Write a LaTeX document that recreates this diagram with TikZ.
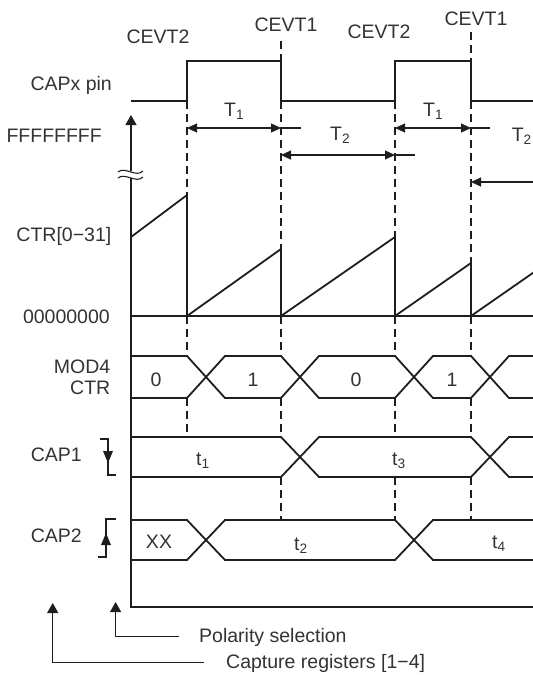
\documentclass[tikz,border=0pt]{standalone}
\usepackage{fontspec}
\setmainfont{Liberation Sans}
\usetikzlibrary{arrows.meta}
\definecolor{ink}{HTML}{1E1E1E}
\definecolor{txt}{HTML}{333333}
\begin{document}
\begin{tikzpicture}[x=1pt,y=-1pt,line join=miter]
\tikzset{
 sig/.style={line width=1.8pt, draw=ink},
 thinl/.style={line width=1.1pt, draw=ink},
 dsh/.style={line width=1.1pt, draw=ink, dash pattern=on 8pt off 5pt},
 lbl/.style={font=\fontsize{19.5}{22}\selectfont, text=txt, inner sep=0pt},
 tipT/.style={-{Triangle[length=10pt,width=9pt]}},
 tipTT/.style={{Triangle[length=10pt,width=9pt]}-{Triangle[length=10pt,width=9pt]}},
 tipA/.style={-{Triangle[length=10pt,width=11pt]}},
}
\fill[white] (0,0) rectangle (533,675);
\useasboundingbox (0,0) rectangle (533,675);
\begin{scope}
\clip (0,0) rectangle (533,675);
% event coordinates
\coordinate (e1) at (187,0);
\coordinate (e2) at (281,0);
\coordinate (e3) at (395,0);
\coordinate (e4) at (471,0);
% dashed event lines
\foreach \x/\ya/\yb in {187/101/195, 187/316/356, 187/398/437,
 281/41/61, 281/101/249, 281/316/356, 281/398/437, 281/477/520,
 395/101/237, 395/316/356, 395/398/437, 395/477/520,
 471/32/61, 471/101/263, 471/316/356, 471/398/437, 471/477/520}
 \draw[dsh] (\x,\ya) -- (\x,\yb);
% CAPx pin signal
\draw[sig] (131,101)--(187,101)--(187,61)--(281,61)--(281,101)--(395,101)--(395,61)--(471,61)--(471,101)--(540,101);
% T arrows
\draw[thinl,tipTT] (187,128)--(281,128);
\draw[thinl] (281,128)--(301,128);
\draw[thinl,tipTT] (281,155)--(395,155);
\draw[thinl] (395,155)--(415,155);
\draw[thinl,tipTT] (395,128)--(471,128);
\draw[thinl] (471,128)--(490,128);
\draw[thinl,{Triangle[length=10pt,width=9pt]}-] (471,182)--(540,182);
% axis
\draw[thinl,tipA] (131,171)--(131,115);
\draw[thinl] (131,178)--(131,607)--(540,607);
\fill[white] (118,171) rectangle (144,178);
\draw[thinl] (118,172) .. controls (125,166) and (136,178) .. (143,171);
\draw[thinl] (118,178) .. controls (125,172) and (136,184) .. (143,177);
% baseline
\draw[thinl] (131,316)--(540,316);
% counter ramps
\draw[sig] (131,237)--(187,195)--(187,316)--(281,249)--(281,316)--(395,237)--(395,316)--(471,263)--(471,316)--(540,268);
% MOD4 bus
\draw[sig] (131,356)--(187,356)--(225,398)--(281,398)--(319,356)--(395,356)--(433,398)--(471,398)--(509,356)--(540,356);
\draw[sig] (131,398)--(187,398)--(225,356)--(281,356)--(319,398)--(395,398)--(433,356)--(471,356)--(509,398)--(540,398);
% CAP1 bus
\draw[sig] (131,437)--(281,437)--(319,477)--(471,477)--(509,437)--(540,437);
\draw[sig] (131,477)--(281,477)--(319,437)--(471,437)--(509,477)--(540,477);
% CAP2 bus
\draw[sig] (131,520)--(187,520)--(225,560)--(395,560)--(433,520)--(540,520);
\draw[sig] (131,560)--(187,560)--(225,520)--(395,520)--(433,560)--(540,560);
\end{scope}
% polarity icons
\draw[thinl] (100,439)--(108,439)--(108,475)--(116,475);
\fill[ink] (103,451)--(113,451)--(108,463)--cycle;
\draw[thinl] (98,557)--(106,557)--(106,519)--(116,519);
\fill[ink] (101,545)--(111,545)--(106,533)--cycle;
% labels
\node[lbl,anchor=base] (c2a) at (158,43.5) {CEVT2};
\node[lbl,anchor=base] (c1a) at (286,31.7) {CEVT1};
\node[lbl,anchor=base] (c2b) at (379,38.3) {CEVT2};
\node[lbl,anchor=base] (c1b) at (476,25) {CEVT1};
\node[lbl,anchor=base east] (pin) at (112,90) {CAPx pin};
\node[lbl,anchor=base east] (ff) at (102,142.7) {FFFFFFFF};
\node[lbl,anchor=base east] (ctr) at (111.5,241.7) {CTR[0−31]};
\node[lbl,anchor=base east] (zz) at (110,323.3) {00000000};
\node[lbl,anchor=base east] (mod) at (110.5,373.3) {MOD4};
\node[lbl,anchor=base east] (mctr) at (110.5,394) {CTR};
\node[lbl,anchor=base east] (cap1) at (82,461) {CAP1};
\node[lbl,anchor=base east] (cap2) at (82,542.7) {CAP2};
\node[lbl,anchor=base west] (T1a) at (224,116.7) {T\textsubscript{1}};
\node[lbl,anchor=base west] (T1b) at (423,116.7) {T\textsubscript{1}};
\node[lbl,anchor=base west] (T2a) at (330,140) {T\textsubscript{2}};
\node[lbl,anchor=base east] (T2b) at (532,141) {T\textsubscript{2}};
\node[lbl,anchor=base] (m0a) at (156,386.7) {0};
\node[lbl,anchor=base] (m1a) at (253,386.7) {1};
\node[lbl,anchor=base] (m0b) at (356,386.7) {0};
\node[lbl,anchor=base] (m1b) at (452,386.7) {1};
\node[lbl,anchor=base west] (t1) at (196,465) {t\textsubscript{1}};
\node[lbl,anchor=base west] (t3) at (392,465) {t\textsubscript{3}};
\node[lbl,anchor=base] (xx) at (159,548.3) {XX};
\node[lbl,anchor=base west] (t2) at (294,550) {t\textsubscript{2}};
\node[lbl,anchor=base west] (t4) at (492,548) {t\textsubscript{4}};
\node[lbl,anchor=base west] (pol) at (199,642.7) {Polarity selection};
\node[lbl,anchor=base west] (capr) at (226,668.3) {Capture registers [1−4]};
% pointer arrows
\coordinate (polTip) at (115.6,602);
\coordinate (capTip) at (52.7,603);
\draw[thinl,tipA] (pol.west |- 0,636.7) ++(-20,0) -- (115.6,636.7) -- (polTip);
\draw[thinl,tipA] (capr.west |- 0,662.7) ++(-22,0) -- (52.7,662.7) -- (capTip);
\end{tikzpicture}
\end{document}
